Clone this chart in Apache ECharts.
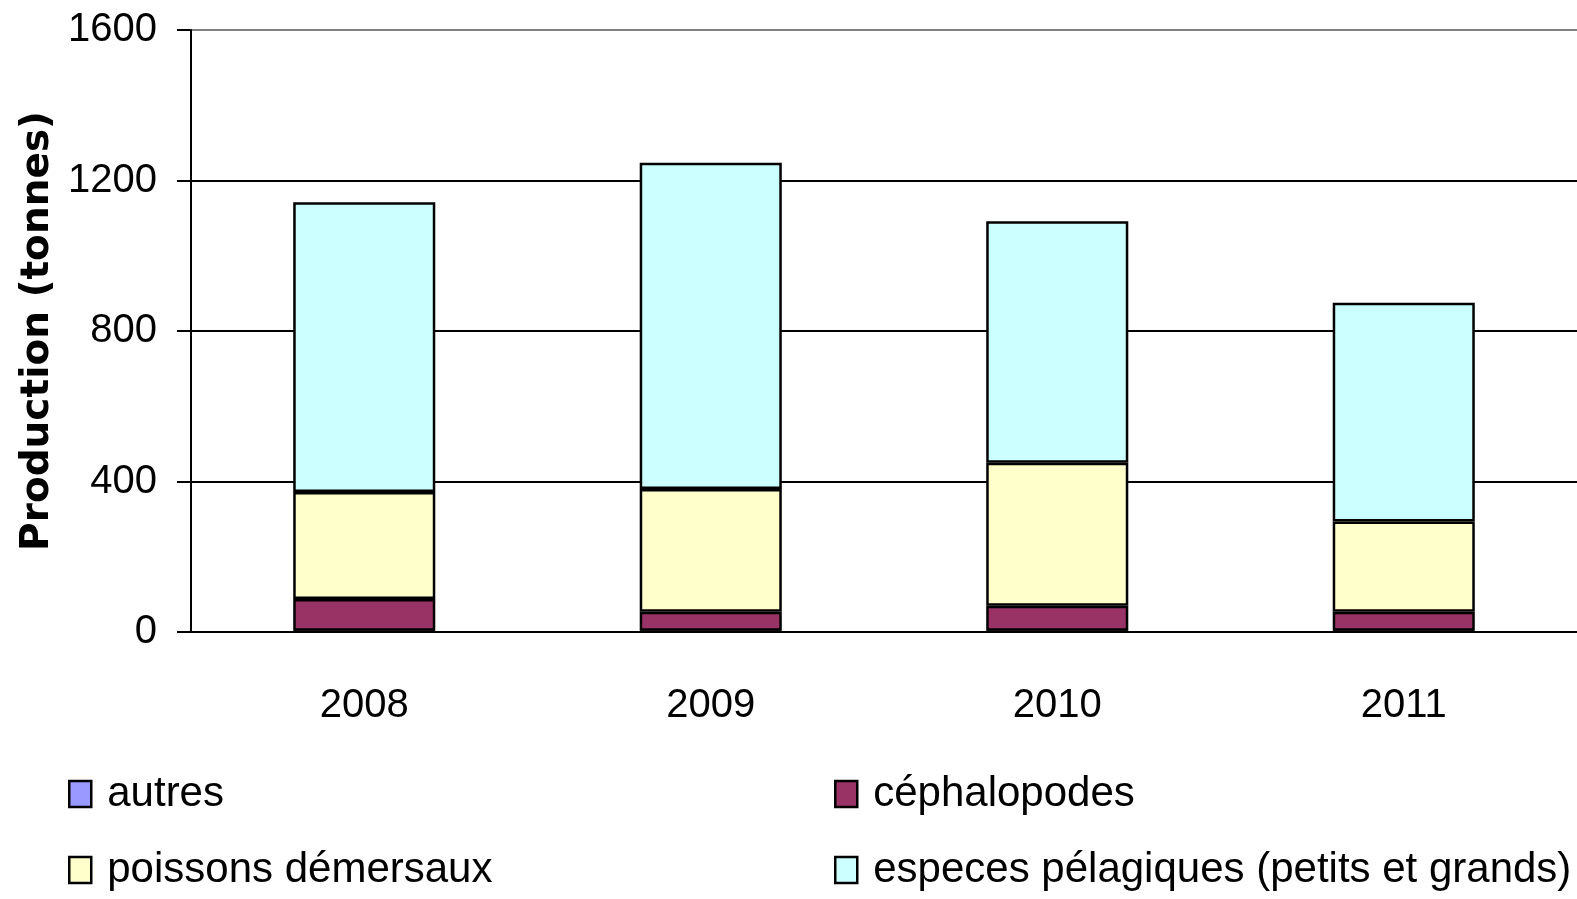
<!DOCTYPE html>
<html lang="fr">
<head>
    <meta charset="UTF-8">
    <title>Production (tonnes)</title>
    <style>
        html, body { margin: 0; padding: 0; background: #fff; }
    </style>
</head>
<body>
    <div id="card" style="width: 1577px;height:899px;"></div>
    <script src="https://cdn.jsdelivr.net/npm/echarts@6/dist/echarts.min.js"></script>
    <script>
        var years = ['2008', '2009', '2010', '2011'];
        var autres = [3, 3, 3, 3];
        var cephalopodes = [85, 51, 67, 51];
        var demersaux = [284, 326, 380, 240];
        var pelagiques = [770, 867, 642, 581];

        var yTicks = [0, 400, 800, 1200, 1600];

        var txtFont = '"Liberation Sans", Arial, sans-serif';

        function barSerie(name, data, color) {
            return {
                name: name,
                type: 'bar',
                stack: 'total',
                barWidth: '41%',
                data: data,
                itemStyle: {
                    color: color,
                    borderColor: '#000',
                    borderWidth: 2.5
                }
            };
        }

        function legendAt(name, left, top) {
            return {
                data: [{ name: name, icon: 'rect' }],
                left: left,
                top: top,
                padding: 0,
                itemWidth: 22,
                itemHeight: 26,
                selectedMode: false,
                itemStyle: { borderColor: '#000', borderWidth: 2.5 },
                textStyle: {
                    fontFamily: txtFont,
                    fontSize: 42,
                    color: '#000',
                    padding: [0, 0, 0, 11]
                }
            };
        }

        var option = {
            backgroundColor: '#fff',
            animation: false,
            grid: {
                left: 191,
                top: 30,
                right: -6,
                bottom: 267
            },
            legend: [
                legendAt('autres', 68, 773),
                legendAt('céphalopodes', 834, 773),
                legendAt('poissons démersaux', 68, 849),
                legendAt('especes pélagiques (petits et grands)', 834, 849)
            ],
            xAxis: {
                type: 'category',
                data: years,
                axisLine: { lineStyle: { color: '#000', width: 2 } },
                axisTick: { length: 17, lineStyle: { color: '#000', width: 2 } },
                axisLabel: {
                    margin: 54,
                    fontFamily: txtFont,
                    fontSize: 40,
                    color: '#000'
                }
            },
            yAxis: {
                type: 'value',
                min: yTicks[0],
                max: yTicks[yTicks.length - 1],
                interval: 400,
                name: 'Production (tonnes)',
                nameLocation: 'middle',
                nameGap: 132,
                nameTextStyle: {
                    fontFamily: '"DejaVu Sans", sans-serif',
                    fontWeight: 'bold',
                    fontSize: 39,
                    color: '#000'
                },
                axisLine: { show: true, lineStyle: { color: '#000', width: 2 } },
                axisTick: { show: true, length: 14, lineStyle: { color: '#000', width: 2 } },
                axisLabel: {
                    margin: 34,
                    fontFamily: txtFont,
                    fontSize: 40,
                    color: '#000',
                    formatter: function (v) { return String(v); }
                },
                splitLine: {
                    lineStyle: {
                        color: ['#000', '#000', '#000', '#000', '#808080'],
                        width: 2
                    }
                }
            },
            series: [
                barSerie('autres', autres, '#9999FF'),
                barSerie('céphalopodes', cephalopodes, '#993366'),
                barSerie('poissons démersaux', demersaux, '#FFFFCC'),
                barSerie('especes pélagiques (petits et grands)', pelagiques, '#CCFFFF')
            ]
        };

        var myChart = echarts.init(document.querySelector('#card'));
        myChart.setOption(option);
    </script>
</body>
</html>
